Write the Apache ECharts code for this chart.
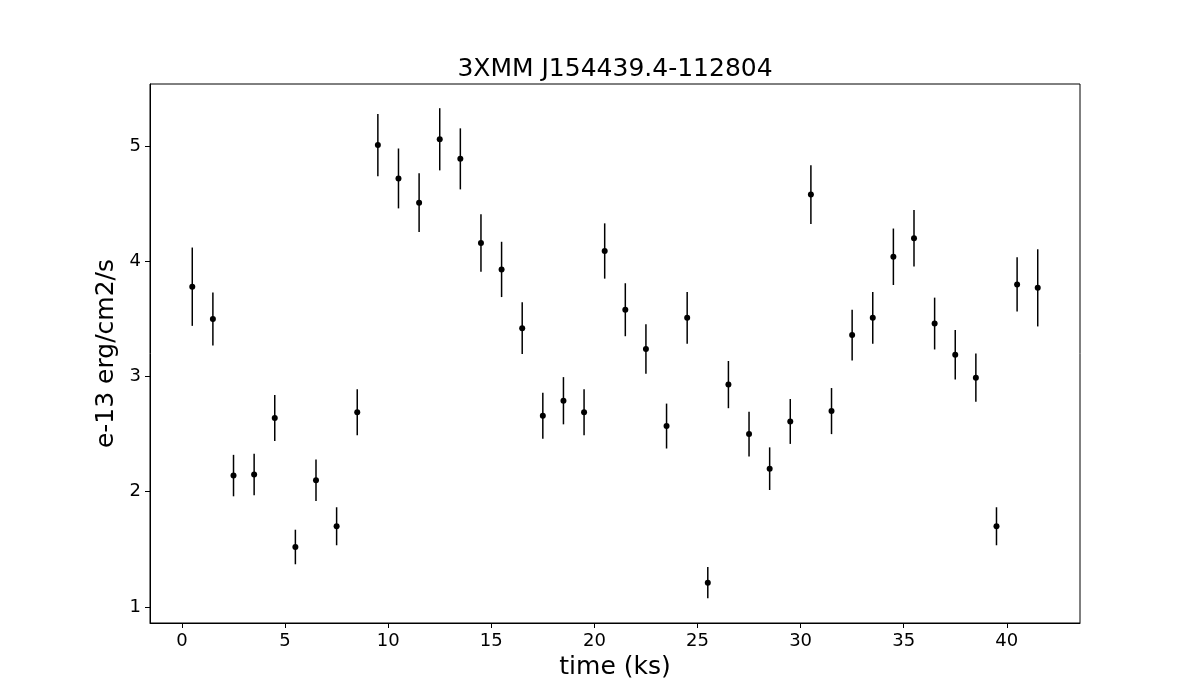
<!DOCTYPE html>
<html>
<head>
<meta charset="utf-8">
<title>3XMM J154439.4-112804</title>
<script src="https://cdn.jsdelivr.net/npm/echarts@6.0.0/dist/echarts.min.js"></script>
<style>
html, body { margin: 0; padding: 0; background: #fff; }
#chartWrap { width: 1200px; height: 700px; }
</style>
</head>
<body>
<div id="chartWrap"></div>
<script>
// light curve values (time bins in ks, flux in 1e-13 erg/cm2/s)
var timeKs = [0.5, 1.5, 2.5, 3.5, 4.5, 5.5, 6.5, 7.5, 8.5, 9.5,
  10.5, 11.5, 12.5, 13.5, 14.5, 15.5, 16.5, 17.5, 18.5, 19.5,
  20.5, 21.5, 22.5, 23.5, 24.5, 25.5, 26.5, 27.5, 28.5, 29.5,
  30.5, 31.5, 32.5, 33.5, 34.5, 35.5, 36.5, 37.5, 38.5, 39.5,
  40.5, 41.5];
var fluxVals = [3.78, 3.50, 2.14, 2.15, 2.64, 1.52, 2.10, 1.70, 2.69, 5.01,
  4.72, 4.51, 5.06, 4.89, 4.16, 3.93, 3.42, 2.66, 2.79, 2.69,
  4.09, 3.58, 3.24, 2.57, 3.51, 1.21, 2.93, 2.50, 2.20, 2.61,
  4.58, 2.70, 3.36, 3.51, 4.04, 4.20, 3.46, 3.19, 2.99, 1.70,
  3.80, 3.77];
var fluxErrs = [0.34, 0.23, 0.18, 0.18, 0.20, 0.15, 0.18, 0.165, 0.20, 0.27,
  0.26, 0.255, 0.27, 0.265, 0.25, 0.24, 0.225, 0.20, 0.205, 0.20,
  0.24, 0.23, 0.215, 0.195, 0.225, 0.136, 0.205, 0.195, 0.185, 0.195,
  0.255, 0.20, 0.22, 0.225, 0.245, 0.245, 0.225, 0.215, 0.21, 0.165,
  0.235, 0.335];
var xTicks = [0, 5, 10, 15, 20, 25, 30, 35, 40];
var yTicks = [1, 2, 3, 4, 5];

var FONT = "'DejaVu Sans', sans-serif";

var points = [];
var errBars = [];
for (var i = 0; i < timeKs.length; i++) {
  points.push([timeKs[i], fluxVals[i]]);
  errBars.push([timeKs[i], fluxVals[i] - fluxErrs[i], fluxVals[i] + fluxErrs[i]]);
}

var myChart = echarts.init(document.getElementById("chartWrap"));

function axisCommon(ticks) {
  return {
    type: "value",
    splitLine: { show: false },
    axisLine: { show: true, onZero: false, lineStyle: { color: "#000", width: 1 } },
    axisTick: { show: true, inside: false, length: 5, customValues: ticks, lineStyle: { color: "#000", width: 1 } },
    axisLabel: { customValues: ticks, color: "#000", fontSize: 18, fontFamily: FONT, margin: 9 },
    nameLocation: "middle",
    nameTextStyle: { color: "#000", fontSize: 25, fontFamily: FONT }
  };
}

var xAxis = axisCommon(xTicks);
xAxis.min = -1.55;
xAxis.max = 43.55;
xAxis.name = "time (ks)";
xAxis.nameGap = 30;

var yAxis = axisCommon(yTicks);
yAxis.min = 0.86;
yAxis.max = 5.54;
yAxis.name = "e-13 erg/cm2/s";
yAxis.nameGap = 30;

var opts = {
  animation: false,
  backgroundColor: "#fff",
  title: {
    text: "3XMM J154439.4-112804",
    left: 610,
    top: 52,
    textAlign: "center",
    textStyle: { color: "#000", fontSize: 25, fontWeight: "normal", fontFamily: FONT }
  },
  grid: {
    left: 150, right: 120, top: 84, bottom: 77,
    show: true, borderColor: "#000", borderWidth: 1, backgroundColor: "#fff"
  },
  xAxis: xAxis,
  yAxis: yAxis,
  series: [
    {
      name: "error",
      type: "custom",
      data: errBars,
      encode: { x: 0, y: [1, 2] },
      renderItem: function (params, api) {
        var p1 = api.coord([api.value(0), api.value(1)]);
        var p2 = api.coord([api.value(0), api.value(2)]);
        return {
          type: "line",
          shape: { x1: p1[0], y1: p1[1], x2: p2[0], y2: p2[1] },
          style: { stroke: "#000", lineWidth: 1.5 }
        };
      },
      z: 2
    },
    {
      name: "flux",
      type: "scatter",
      data: points,
      symbol: "circle",
      symbolSize: 6,
      itemStyle: { color: "#000", opacity: 1 },
      z: 3
    }
  ]
};
myChart.setOption(opts);
</script>
</body>
</html>
